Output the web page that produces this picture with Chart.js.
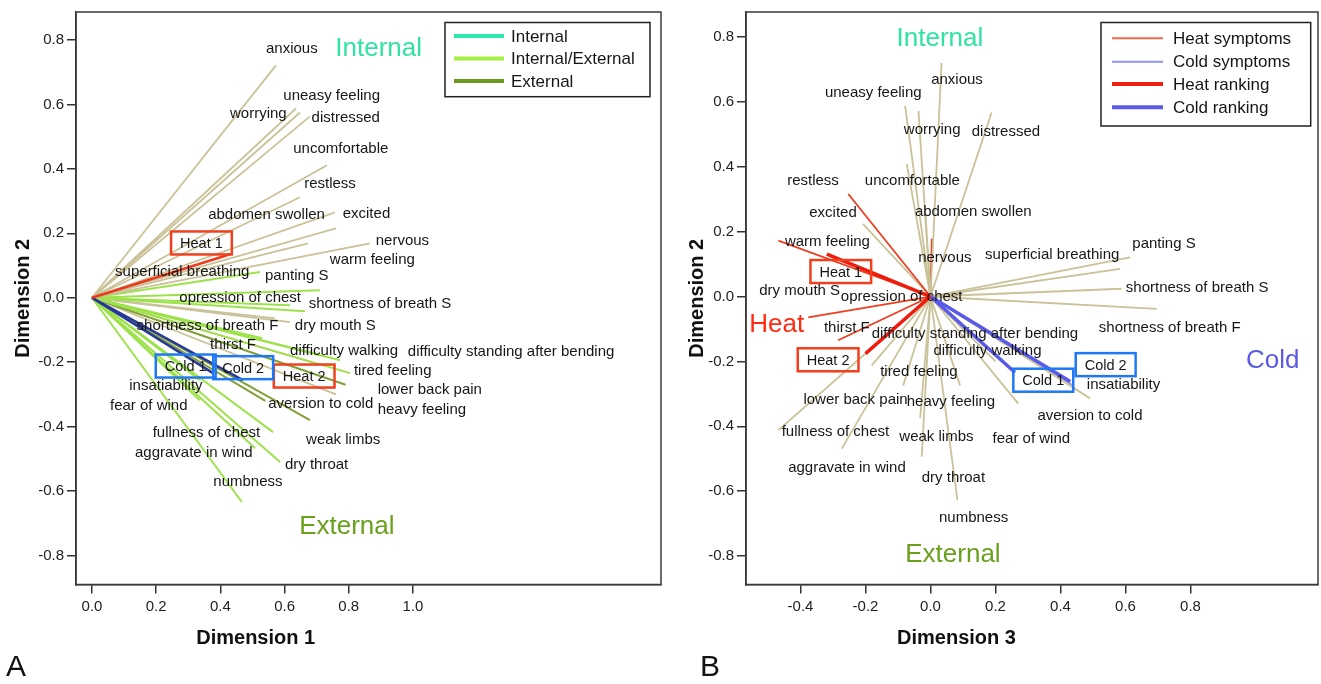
<!DOCTYPE html>
<html>
<head>
<meta charset="utf-8">
<script src="https://cdn.jsdelivr.net/npm/chart.js@4/dist/chart.umd.min.js"></script>
<style>
  html, body { margin: 0; padding: 0; background: #fff; }
  body { width: 1321px; height: 684px; position: relative; overflow: hidden; }
  canvas { position: absolute; top: 0; }
  #chartA { left: 0; }
  #chartB { left: 676px; }
</style>
</head>
<body>
<canvas id="chartA" width="680" height="684" style="width:680px;height:684px"></canvas>
<canvas id="chartB" width="645" height="684" style="width:645px;height:684px"></canvas>
<script>
// symptom categories (same list in both panels)
const symptoms = ['anxious', 'worrying', 'uneasy feeling', 'distressed', 'uncomfortable', 'restless',
  'abdomen swollen', 'excited', 'nervous', 'warm feeling', 'superficial breathing', 'panting S',
  'opression of chest', 'shortness of breath S', 'shortness of breath F', 'dry mouth S', 'thirst F',
  'difficulty walking', 'difficulty standing after bending', 'tired feeling', 'lower back pain',
  'heavy feeling', 'aversion to cold', 'weak limbs', 'insatiability', 'fear of wind',
  'fullness of chest', 'aggravate in wind', 'dry throat', 'numbness'];
const rankings = ['Heat 1', 'Heat 2', 'Cold 1', 'Cold 2'];

// panel A: Dimension 1 (x) / Dimension 2 (y)
const dim1A = [0.573, 0.636, 0.648, 0.679, 0.732, 0.648, 0.757, 0.760, 0.866, 0.673, 0.523, 0.710,
  0.617, 0.664, 0.570, 0.617, 0.530, 0.710, 0.773, 0.804, 0.790, 0.760, 0.540, 0.679, 0.336, 0.336,
  0.564, 0.508, 0.586, 0.467];
const dim2A = [0.721, 0.588, 0.575, 0.563, 0.411, 0.312, 0.265, 0.215, 0.169, 0.169, 0.080, 0.023,
  -0.023, -0.042, -0.064, -0.076, -0.126, -0.178, -0.194, -0.234, -0.270, -0.300, -0.320, -0.380,
  -0.256, -0.318, -0.417, -0.467, -0.510, -0.634];
const groupA = ['int', 'int', 'int', 'int', 'int', 'int', 'int', 'int', 'int', 'int', 'mix', 'mix',
  'mix', 'mix', 'int', 'int', 'mix', 'mix', 'mix', 'mix', 'ext', 'int', 'ext', 'ext', 'mix', 'mix',
  'mix', 'mix', 'mix', 'mix'];
const rankDim1A = [0.430, 0.700, 0.377, 0.470];
const rankDim2A = [0.135, -0.205, -0.234, -0.256];

// panel B: Dimension 3 (x) / Dimension 2 (y)
const dim3B = [0.034, -0.037, -0.078, 0.188, -0.073, -0.253, -0.015, -0.208, 0.004, -0.468, 0.583,
  0.614, -0.035, 0.588, 0.696, -0.376, -0.284, 0.200, 0.120, -0.084, -0.181, 0.091, 0.491, -0.032,
  0.440, 0.270, -0.468, -0.273, -0.027, 0.083];
const dim2B = [0.720, 0.572, 0.588, 0.567, 0.408, 0.316, 0.250, 0.224, 0.178, 0.172, 0.085, 0.121,
  0.010, 0.024, -0.038, -0.064, -0.135, -0.200, -0.120, -0.274, -0.212, -0.274, -0.314, -0.375,
  -0.275, -0.330, -0.412, -0.469, -0.494, -0.628];
const groupB = ['none', 'none', 'none', 'none', 'none', 'heat', 'none', 'none', 'heat', 'heat', 'none',
  'none', 'none', 'none', 'none', 'heat', 'heat', 'none', 'none', 'none', 'none', 'none', 'none',
  'none', 'cold', 'none', 'none', 'none', 'none', 'none'];
const rankDim3B = [-0.319, -0.200, 0.260, 0.430];
const rankDim2B = [0.131, -0.176, -0.234, -0.262];

// tick labels
const ticksDim1 = [0, 0.2, 0.4, 0.6, 0.8, 1.0];
const ticksDim3 = [-0.4, -0.2, 0, 0.2, 0.4, 0.6, 0.8];
const ticksDim2 = [-0.8, -0.6, -0.4, -0.2, 0, 0.2, 0.4, 0.6, 0.8];

// ---- layout: where the texts sit (data units, left edge / middle) ----
const labelAtA = {
  'anxious': [0.542, 0.771], 'uneasy feeling': [0.596, 0.628], 'worrying': [0.430, 0.571],
  'distressed': [0.684, 0.559], 'uncomfortable': [0.627, 0.463], 'restless': [0.661, 0.354],
  'abdomen swollen': [0.362, 0.256], 'excited': [0.781, 0.259], 'nervous': [0.884, 0.176],
  'warm feeling': [0.741, 0.119], 'superficial breathing': [0.072, 0.080], 'panting S': [0.539, 0.067],
  'opression of chest': [0.272, -0.001], 'shortness of breath S': [0.675, -0.020],
  'shortness of breath F': [0.139, -0.087], 'dry mouth S': [0.632, -0.087], 'thirst F': [0.368, -0.147],
  'difficulty walking': [0.617, -0.166], 'difficulty standing after bending': [0.984, -0.168],
  'tired feeling': [0.816, -0.226], 'lower back pain': [0.890, -0.287], 'heavy feeling': [0.890, -0.349],
  'aversion to cold': [0.549, -0.328], 'insatiability': [0.116, -0.274], 'fear of wind': [0.056, -0.336],
  'fullness of chest': [0.189, -0.419], 'weak limbs': [0.667, -0.440], 'aggravate in wind': [0.134, -0.481],
  'dry throat': [0.601, -0.519], 'numbness': [0.378, -0.571]
};
const labelAtB = {
  'anxious': [0.002, 0.667], 'uneasy feeling': [-0.325, 0.629], 'worrying': [-0.082, 0.514],
  'distressed': [0.127, 0.509], 'restless': [-0.441, 0.355], 'uncomfortable': [-0.202, 0.355],
  'excited': [-0.373, 0.258], 'abdomen swollen': [-0.048, 0.262], 'warm feeling': [-0.448, 0.169],
  'nervous': [-0.038, 0.119], 'superficial breathing': [0.168, 0.128], 'panting S': [0.621, 0.162],
  'dry mouth S': [-0.527, 0.016], 'opression of chest': [-0.276, -0.002],
  'shortness of breath S': [0.601, 0.027], 'shortness of breath F': [0.518, -0.096],
  'thirst F': [-0.328, -0.096], 'difficulty standing after bending': [-0.181, -0.115],
  'difficulty walking': [0.009, -0.169], 'tired feeling': [-0.155, -0.231],
  'lower back pain': [-0.391, -0.320], 'heavy feeling': [-0.073, -0.325], 'insatiability': [0.481, -0.272],
  'aversion to cold': [0.329, -0.369], 'fullness of chest': [-0.458, -0.418], 'weak limbs': [-0.096, -0.433],
  'fear of wind': [0.191, -0.438], 'aggravate in wind': [-0.438, -0.527], 'dry throat': [-0.027, -0.558],
  'numbness': [0.026, -0.681]
};
const boxAtA = { 'Heat 1': [0.341, 0.170], 'Heat 2': [0.661, -0.243], 'Cold 1': [0.292, -0.212], 'Cold 2': [0.471, -0.217] };
const boxAtB = { 'Heat 1': [-0.276, 0.077], 'Heat 2': [-0.315, -0.195], 'Cold 1': [0.347, -0.258], 'Cold 2': [0.539, -0.210] };

const FONT = '"Liberation Sans", Arial, sans-serif';
const TAN = '#cac298';
const RED = '#f03c1e';
const BLUE_BOX = '#1f78f5';
const RED_BOX = '#f0401e';

function overlay(cfg) {
  return {
    id: 'overlay' + cfg.key,
    afterDatasetsDraw(chart) {
      const { ctx, chartArea: a } = chart;
      const sx = chart.scales.x, sy = chart.scales.y;
      const px = v => sx.getPixelForValue(v), py = v => sy.getPixelForValue(v);
      ctx.save();
      // plot frame
      ctx.strokeStyle = '#3a3a3a';
      ctx.lineWidth = 1.5;
      ctx.strokeRect(a.left, a.top, a.right - a.left, a.bottom - a.top);

      // symptom labels
      ctx.font = '15px ' + FONT;
      ctx.fillStyle = '#161616';
      ctx.textAlign = 'left';
      ctx.textBaseline = 'middle';
      symptoms.forEach(n => {
        const p = cfg.labelAt[n];
        ctx.fillText(n, px(p[0]), py(p[1]));
      });

      // ranking boxes
      ctx.font = '14.5px ' + FONT;
      ctx.textAlign = 'center';
      rankings.forEach(n => {
        const p = cfg.boxAt[n];
        const cx = px(p[0]), cy = py(p[1]);
        const w = ctx.measureText(n).width + 18, h = 23;
        ctx.fillStyle = '#161616';
        ctx.fillText(n, cx, cy + 1);
        ctx.strokeStyle = n.startsWith('Heat') ? RED_BOX : BLUE_BOX;
        ctx.lineWidth = 2.5;
        ctx.strokeRect(cx - w / 2, cy - h / 2, w, h);
      });

      // big region labels
      ctx.font = '26px ' + FONT;
      cfg.big.forEach(b => {
        ctx.fillStyle = b.color;
        ctx.fillText(b.text, px(b.at[0]), py(b.at[1]));
      });

      // legend
      const L = cfg.legend;
      ctx.fillStyle = '#fff';
      ctx.fillRect(L.x0, L.y0, L.x1 - L.x0, L.y1 - L.y0);
      ctx.strokeStyle = '#222';
      ctx.lineWidth = 1.5;
      ctx.strokeRect(L.x0, L.y0, L.x1 - L.x0, L.y1 - L.y0);
      ctx.font = '17px ' + FONT;
      ctx.textAlign = 'left';
      L.items.forEach((it, i) => {
        const y = L.rows[i];
        ctx.strokeStyle = it.color;
        ctx.lineWidth = it.width;
        ctx.beginPath();
        ctx.moveTo(L.lineX[0], y);
        ctx.lineTo(L.lineX[1], y);
        ctx.stroke();
        ctx.fillStyle = '#161616';
        ctx.fillText(it.text, L.textX, y + 1);
      });

      // x axis title and panel letter
      ctx.font = 'bold 20px ' + FONT;
      ctx.textAlign = 'center';
      ctx.fillStyle = '#111';
      ctx.fillText(cfg.xTitle, px(cfg.xTitleAt), 638);
      ctx.font = '30px ' + FONT;
      ctx.textAlign = 'left';
      ctx.fillText(cfg.letter, cfg.letterX, 668);
      ctx.restore();
    }
  };
}

function makePanel(canvasId, p) {
  const datasets = [];
  symptoms.forEach((n, i) => {
    const st = p.style[p.group[i]];
    datasets.push({
      label: n,
      data: [{ x: 0, y: 0 }, { x: p.xs[i], y: p.ys[i] }],
      borderColor: st.color, borderWidth: st.width, order: 2
    });
  });
  rankings.forEach((n, i) => {
    const st = p.rankStyle[n];
    datasets.push({
      label: n,
      data: [{ x: 0, y: 0 }, { x: p.rxs[i], y: p.rys[i] }],
      borderColor: st.color, borderWidth: st.width, order: st.order
    });
  });
  const tickFont = { family: FONT, size: 15 };
  const axisGrid = { drawOnChartArea: false, drawTicks: true, tickLength: 9, color: '#333', lineWidth: 1.5 };
  return new Chart(document.getElementById(canvasId), {
    type: 'scatter',
    data: { datasets: datasets },
    options: {
      responsive: false,
      animation: false,
      showLine: true,
      elements: { point: { radius: 0, hoverRadius: 0 }, line: { tension: 0, fill: false } },
      layout: { padding: { left: 0, top: 11, right: p.padRight, bottom: 29.5 } },
      plugins: { legend: { display: false }, tooltip: { enabled: false } },
      scales: {
        x: {
          type: 'linear', min: p.xMin, max: p.xMax,
          afterBuildTicks: s => { s.ticks = p.xTicks.map(v => ({ value: v })); },
          afterFit: s => { s.height = 70; },
          ticks: { callback: v => v.toFixed(1), font: tickFont, color: '#222', padding: 4, maxRotation: 0, autoSkip: false },
          grid: axisGrid,
          border: { color: '#333', width: 1.5 }
        },
        y: {
          type: 'linear', min: p.yMin, max: p.yMax,
          afterBuildTicks: s => { s.ticks = ticksDim2.map(v => ({ value: v })); },
          afterFit: s => { s.width = p.yWidth; },
          ticks: { callback: v => v.toFixed(1), font: tickFont, color: '#222', padding: 3, autoSkip: false },
          grid: axisGrid,
          border: { color: '#333', width: 1.5 },
          title: { display: true, text: 'Dimension 2', color: '#111', font: { family: FONT, size: 20, weight: 'bold' }, padding: { top: p.yTitlePad, bottom: 0 } }
        }
      }
    },
    plugins: [overlay(p.overlay)]
  });
}

makePanel('chartA', {
  xs: dim1A, ys: dim2A, group: groupA, rxs: rankDim1A, rys: rankDim2A,
  style: {
    int: { color: TAN, width: 1.8 },
    mix: { color: '#9de24a', width: 2 },
    ext: { color: '#82a038', width: 2 }
  },
  rankStyle: {
    'Heat 1': { color: '#ec3a1c', width: 2.5, order: 0 },
    'Heat 2': { color: '#ec3a1c', width: 1.2, order: 3 },
    'Cold 1': { color: '#27389a', width: 2.5, order: 0 },
    'Cold 2': { color: '#27389a', width: 2.5, order: 0 }
  },
  xMin: -0.0498, xMax: 1.7726, yMin: -0.89, yMax: 0.8868,
  xTicks: ticksDim1, yWidth: 76, yTitlePad: 11, padRight: 19,
  overlay: {
    key: 'A', labelAt: labelAtA, boxAt: boxAtA,
    big: [
      { text: 'Internal', at: [0.893, 0.771], color: '#2fe4a2' },
      { text: 'External', at: [0.794, -0.711], color: '#6aa01c' }
    ],
    legend: {
      x0: 445, y0: 22.5, x1: 650, y1: 96.7, lineX: [454, 504], textX: 511, rows: [36, 58.5, 81],
      items: [
        { text: 'Internal', color: '#2ee8b0', width: 4 },
        { text: 'Internal/External', color: '#a2f042', width: 4 },
        { text: 'External', color: '#6c981e', width: 4 }
      ]
    },
    xTitle: 'Dimension 1', xTitleAt: 0.51, letter: 'A', letterX: 6
  }
});

makePanel('chartB', {
  xs: dim3B, ys: dim2B, group: groupB, rxs: rankDim3B, rys: rankDim2B,
  style: {
    none: { color: TAN, width: 1.8 },
    heat: { color: RED, width: 1.8 },
    cold: { color: '#9a9af0', width: 2 }
  },
  rankStyle: {
    'Heat 1': { color: '#ee1c0c', width: 3.5, order: 0 },
    'Heat 2': { color: '#ee1c0c', width: 3.5, order: 0 },
    'Cold 1': { color: '#5a5aea', width: 3.5, order: 0 },
    'Cold 2': { color: '#5a5aea', width: 3.5, order: 0 }
  },
  xMin: -0.5677, xMax: 1.1923, yMin: -0.8877, yMax: 0.877,
  xTicks: ticksDim3, yWidth: 70, yTitlePad: 9, padRight: 3,
  overlay: {
    key: 'B', labelAt: labelAtB, boxAt: boxAtB,
    big: [
      { text: 'Internal', at: [0.029, 0.794], color: '#2fe4a2' },
      { text: 'External', at: [0.069, -0.797], color: '#6aa01c' },
      { text: 'Heat', at: [-0.473, -0.086], color: '#ff2a10' },
      { text: 'Cold', at: [1.053, -0.197], color: '#5a5ae6' }
    ],
    legend: {
      x0: 425, y0: 22.5, x1: 634.7, y1: 126, lineX: [436, 487], textX: 497, rows: [38.3, 61.7, 84, 107.3],
      items: [
        { text: 'Heat symptoms', color: '#f26a4a', width: 2 },
        { text: 'Cold symptoms', color: '#9292f2', width: 2 },
        { text: 'Heat ranking', color: '#ee2010', width: 4 },
        { text: 'Cold ranking', color: '#5a5ae8', width: 4 }
      ]
    },
    xTitle: 'Dimension 3', xTitleAt: 0.08, letter: 'B', letterX: 24
  }
});
</script>
</body>
</html>
